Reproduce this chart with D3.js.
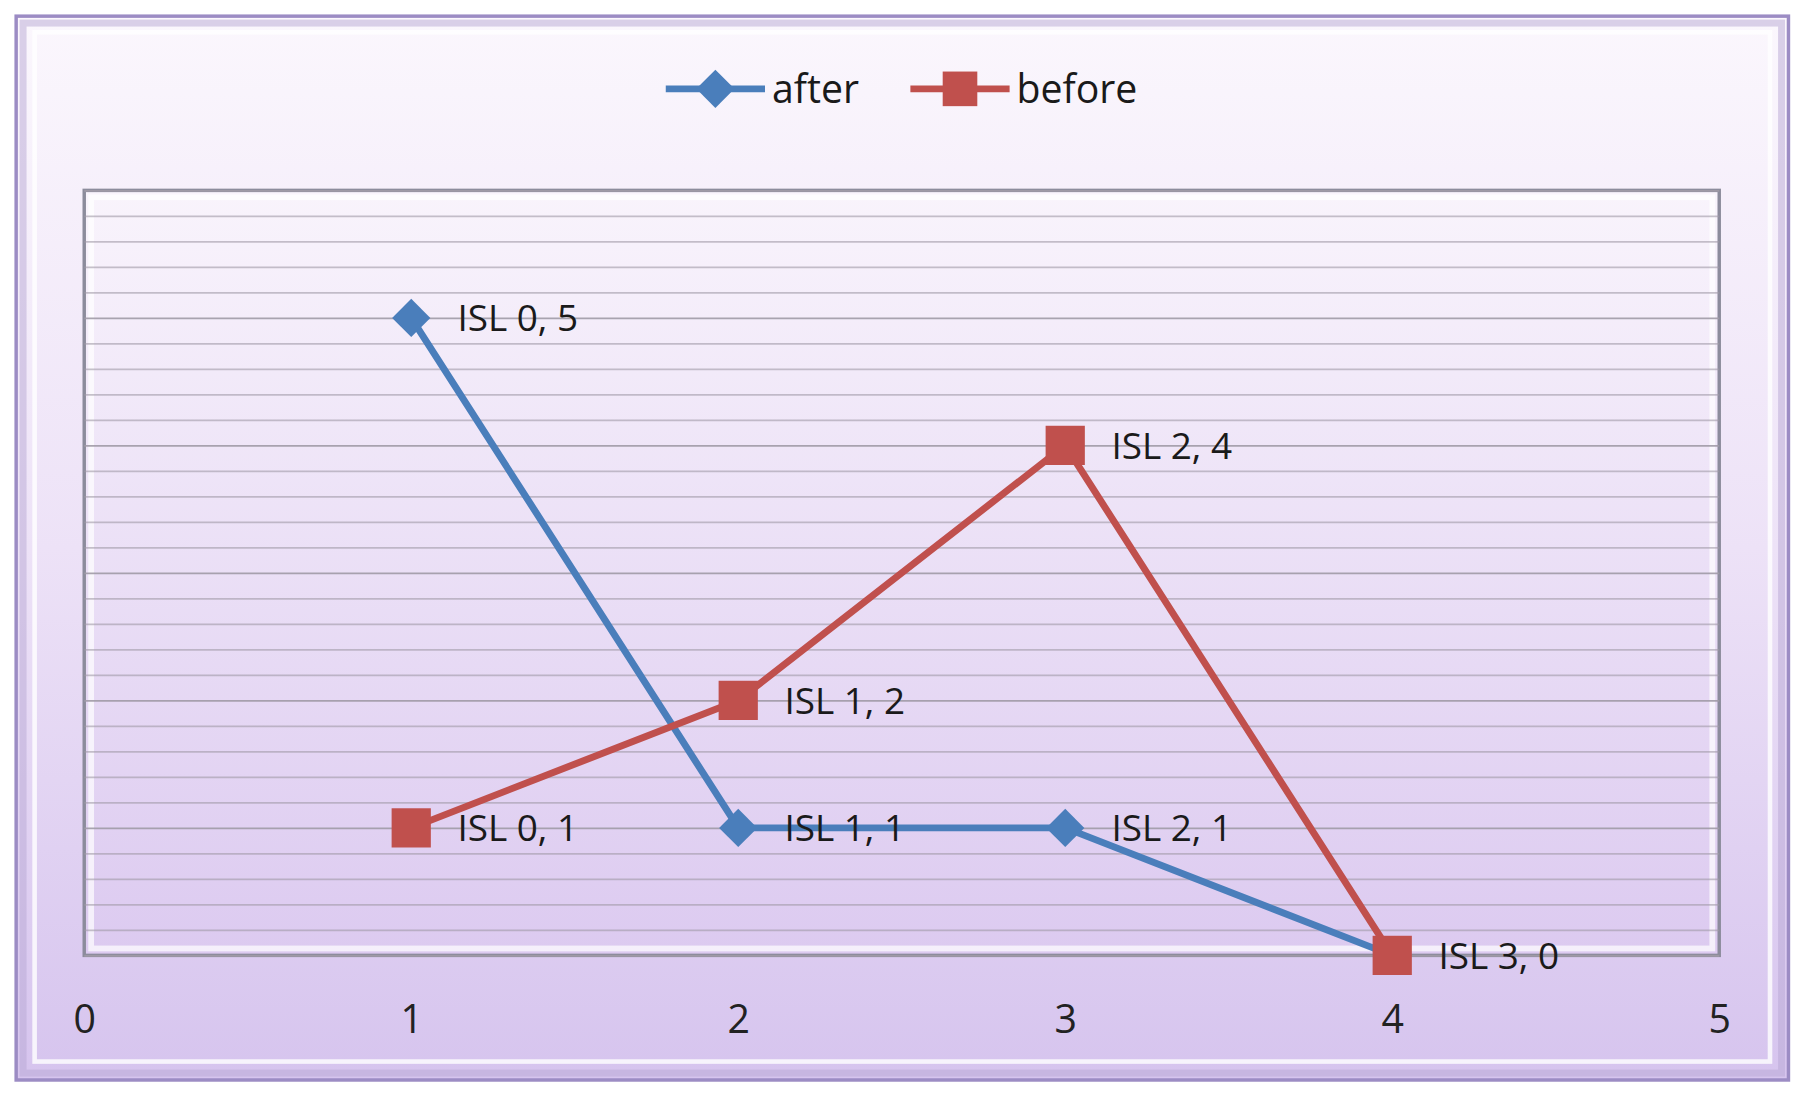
<!DOCTYPE html>
<html><head><meta charset="utf-8">
<script src="https://cdn.jsdelivr.net/npm/d3@7"></script>
<style>body{margin:0;background:#fff}</style>
</head><body>
<svg id="chart"></svg>
<script>
var width = 1800, height = 1097;
var k = 1800 / 1560; // layout worked out on a 1560-wide grid

var xValues = [1, 2, 3, 4];
var afterValues = [5, 1, 1, 0];
var beforeValues = [1, 2, 4, 0];
var afterLabels = ["ISL 0, 5", "ISL 1, 1", "ISL 2, 1", "ISL 3, 0"];
var beforeLabels = ["ISL 0, 1", "ISL 1, 2", "ISL 2, 4", "ISL 3, 0"];
var xTicks = [0, 1, 2, 3, 4, 5];

var svg = d3.select("#chart").attr("width", width).attr("height", height);
var defs = svg.append("defs");

var bg = defs.append("linearGradient").attr("id", "bg").attr("x1", 0).attr("y1", 0).attr("x2", 0).attr("y2", 1);
bg.append("stop").attr("offset", "0%").attr("stop-color", "#fbf7fd");
bg.append("stop").attr("offset", "50%").attr("stop-color", "#ede2f7");
bg.append("stop").attr("offset", "100%").attr("stop-color", "#d6c4ee");

var pg = defs.append("linearGradient").attr("id", "pg").attr("x1", 0).attr("y1", 0).attr("x2", 0).attr("y2", 1);
pg.append("stop").attr("offset", "0%").attr("stop-color", "#f9f4fc");
pg.append("stop").attr("offset", "100%").attr("stop-color", "#dccaf0");

var g = svg.append("g").attr("transform", `scale(${k})`);

// outer frame with bevel
g.append("rect").attr("x", 14).attr("y", 14).attr("width", 1536).attr("height", 922)
    .attr("fill", "url(#bg)").attr("stroke", "#9c8cc4").attr("stroke-width", 3);
g.append("rect").attr("x", 30).attr("y", 28).attr("width", 1504).attr("height", 892)
    .attr("fill", "none").attr("stroke", "#ffffff").attr("stroke-opacity", 0.8).attr("stroke-width", 4);
g.append("rect").attr("x", 20).attr("y", 20).attr("width", 1524).attr("height", 910)
    .attr("fill", "none").attr("stroke", "#b8a8d4").attr("stroke-width", 6).attr("stroke-opacity", 0.5);

var pLeft = 73, pRight = 1490, pTop = 165, pBottom = 828;
var xScale = d3.scaleLinear().domain([0, 5]).range([pLeft, pRight]);
var yScale = d3.scaleLinear().domain([0, 6]).range([pBottom, pTop]);

// plot area
g.append("rect").attr("x", pLeft).attr("y", pTop).attr("width", pRight - pLeft).attr("height", pBottom - pTop)
    .attr("fill", "url(#pg)").attr("stroke", "#8c8c9c").attr("stroke-width", 3);
g.append("rect").attr("x", pLeft + 6).attr("y", pTop + 6).attr("width", pRight - pLeft - 12).attr("height", pBottom - pTop - 12)
    .attr("fill", "none").attr("stroke", "#ffffff").attr("stroke-width", 5).attr("stroke-opacity", 0.7);

// gridlines every 0.2
var yAxis = d3.axisLeft(yScale).tickValues(d3.range(0, 6.01, 0.2)).tickSize(-(pRight - pLeft)).tickFormat("");
g.append("g").attr("transform", `translate(${pLeft},0)`).call(yAxis)
    .call(s => s.select(".domain").remove())
    .call(s => s.selectAll("line").attr("stroke", "#a09aa6").attr("stroke-width", 1.5)
        .attr("stroke-opacity", d => Math.abs(d - Math.round(d)) < 1e-6 ? 0.9 : 0.6));

var font = "Open Sans, Liberation Sans, sans-serif";

// x labels
var xAxis = d3.axisBottom(xScale).tickValues(xTicks).tickSize(0).tickFormat(d3.format("d"));
g.append("g").attr("transform", `translate(0,${pBottom + 40})`).call(xAxis)
    .call(s => s.select(".domain").remove())
    .call(s => s.selectAll("text").attr("font-size", 34).attr("font-family", font).attr("fill", "#222"));

var line = d3.line().x((d, i) => xScale(xValues[i])).y(d => yScale(d));
var blue = "#4a7ebb", red = "#c0504d";

g.append("path").datum(afterValues).attr("d", line).attr("fill", "none").attr("stroke", blue).attr("stroke-width", 6);
g.append("path").datum(beforeValues).attr("d", line).attr("fill", "none").attr("stroke", red).attr("stroke-width", 6);

var diamond = d3.symbol().type(d3.symbolDiamond2).size(700);
g.selectAll(".dA").data(afterValues).enter().append("path")
    .attr("transform", (d, i) => `translate(${xScale(xValues[i])},${yScale(d)})`)
    .attr("d", diamond).attr("fill", blue);
g.selectAll(".sB").data(beforeValues).enter().append("rect")
    .attr("x", (d, i) => xScale(xValues[i]) - 17).attr("y", d => yScale(d) - 17)
    .attr("width", 34).attr("height", 34).attr("fill", red);

function labels(vals, txt) {
    g.selectAll(null).data(vals).enter().append("text")
        .attr("x", (d, i) => xScale(xValues[i]) + 40).attr("y", d => yScale(d))
        .attr("dy", "0.36em").attr("font-size", 32).attr("font-family", font).attr("fill", "#1a1a1a")
        .text((d, i) => txt[i]);
}
labels(afterValues.slice(0, 3), afterLabels);
labels(beforeValues, beforeLabels);

// legend
var lg = g.append("g").attr("transform", "translate(577,77)");
lg.append("line").attr("x1", 0).attr("x2", 86).attr("stroke", blue).attr("stroke-width", 6);
lg.append("path").attr("transform", "translate(43,0)").attr("d", diamond).attr("fill", blue);
lg.append("text").attr("x", 92).attr("dy", "0.36em").attr("font-size", 34).attr("font-family", font).attr("fill", "#1a1a1a").text("after");
lg.append("line").attr("x1", 212).attr("x2", 298).attr("stroke", red).attr("stroke-width", 6);
lg.append("rect").attr("x", 240).attr("y", -15).attr("width", 30).attr("height", 30).attr("fill", red);
lg.append("text").attr("x", 304).attr("dy", "0.36em").attr("font-size", 34).attr("font-family", font).attr("fill", "#1a1a1a").text("before");
</script>
</body></html>
